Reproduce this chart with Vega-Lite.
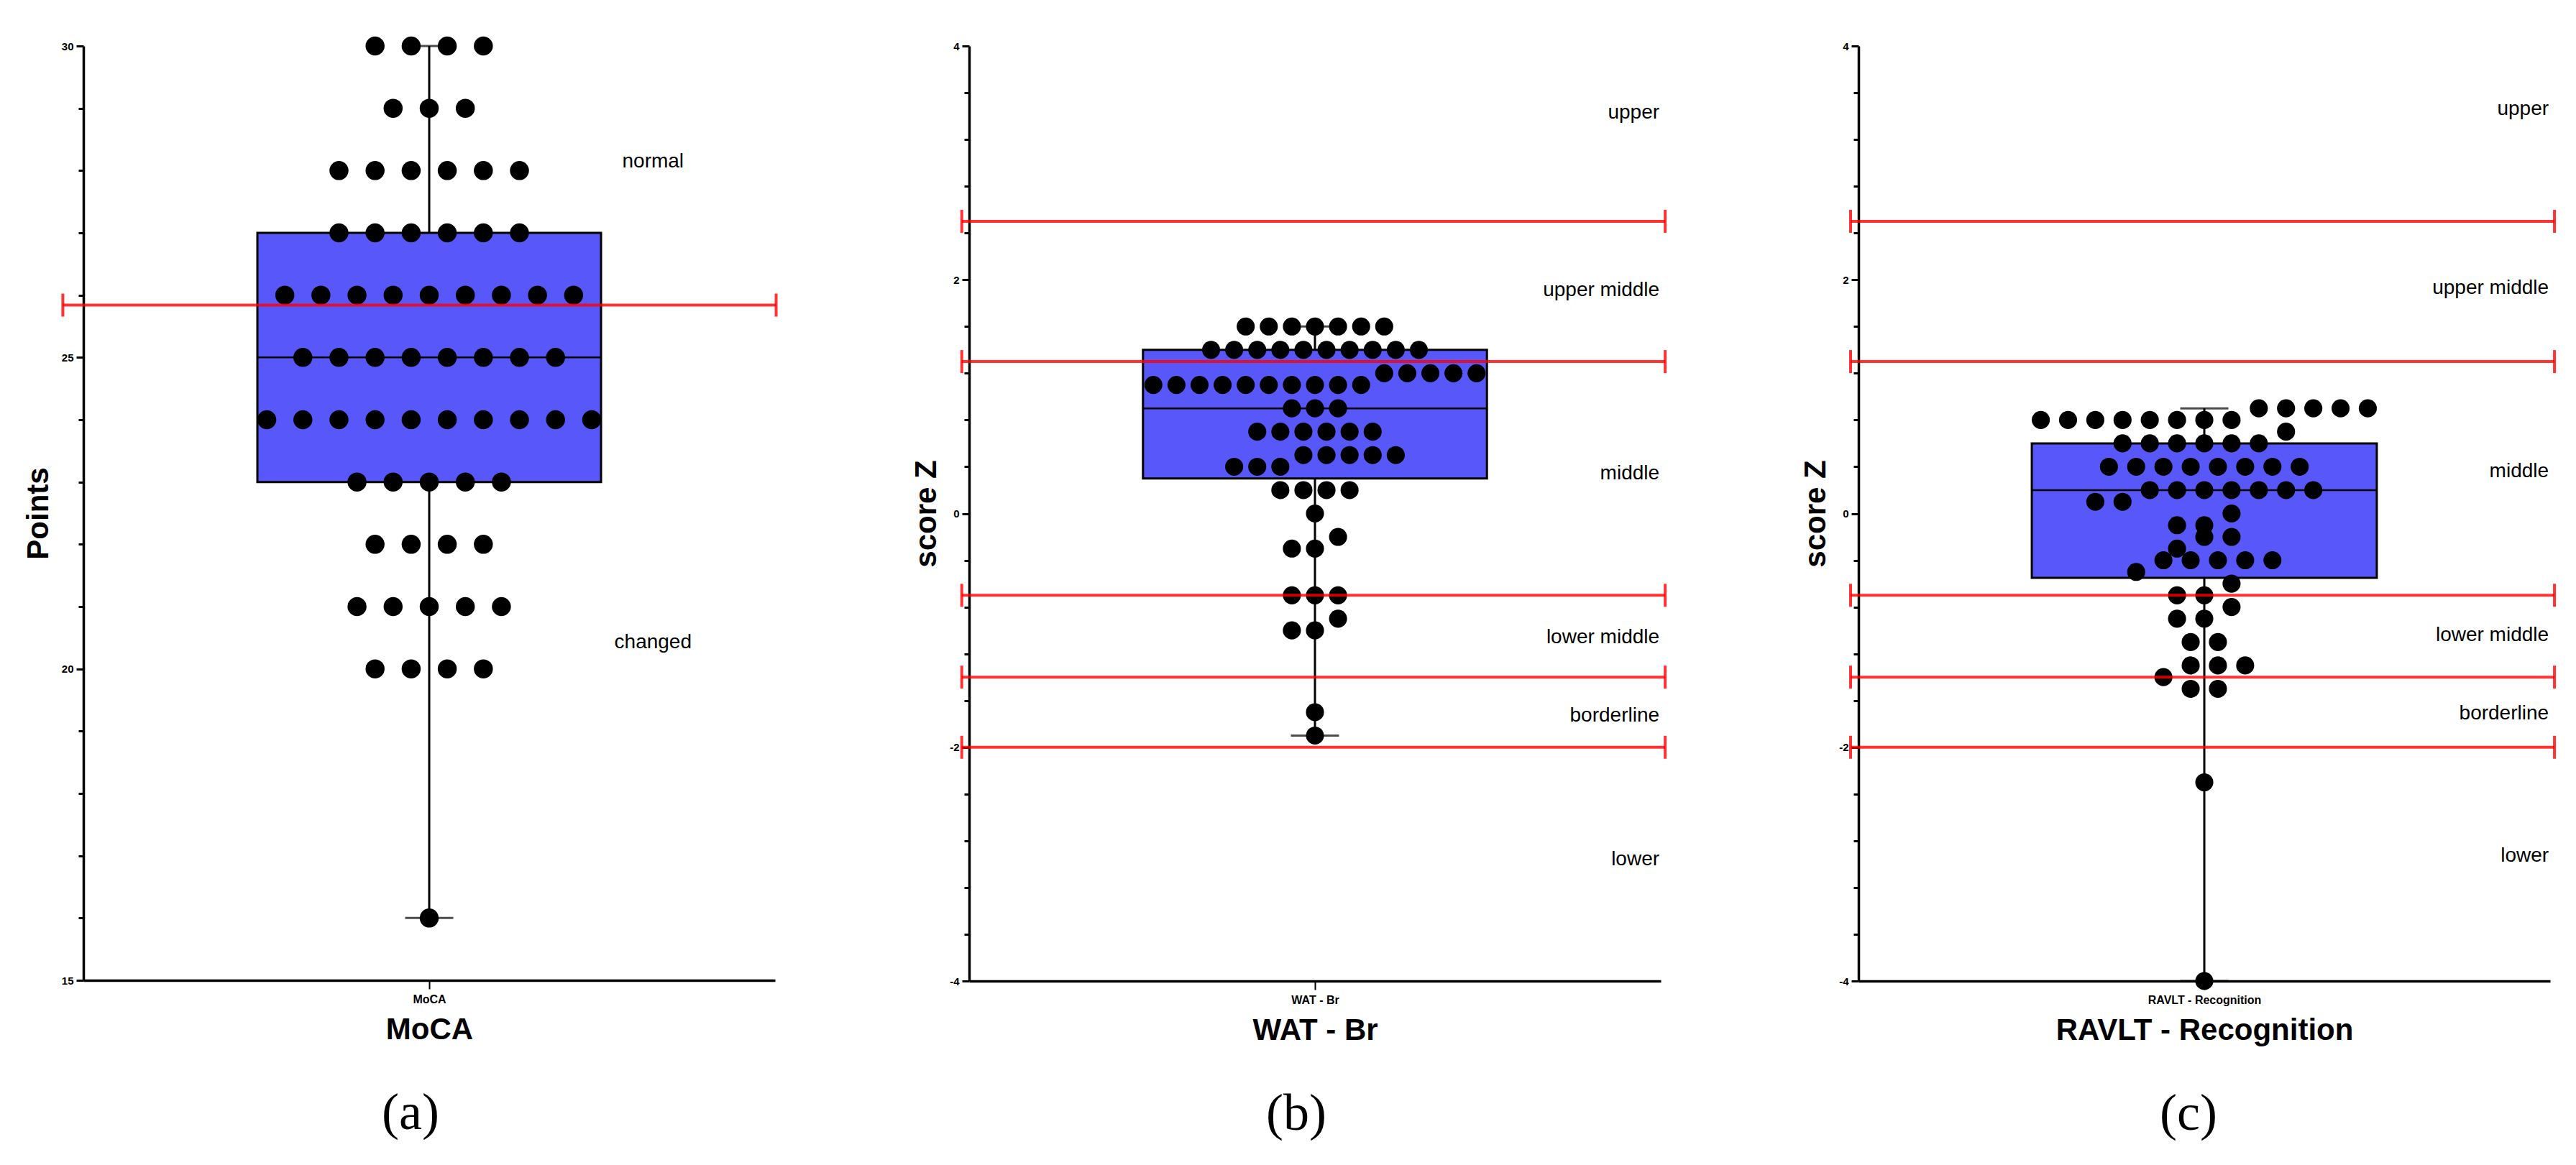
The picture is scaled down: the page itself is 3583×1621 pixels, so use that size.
{
  "$schema": "https://vega.github.io/schema/vega-lite/v6.json",
  "background": "white",
  "padding": {"left": 32, "top": 50, "right": 5, "bottom": 5},
  "config": {"view": {"stroke": null}, "font": "Liberation Sans"},
  "datasets": {
    "scores": [
      {"test": "MoCA", "score": 30}, {"test": "MoCA", "score": 30}, {"test": "MoCA", "score": 30}, {"test": "MoCA", "score": 30},
      {"test": "MoCA", "score": 29}, {"test": "MoCA", "score": 29}, {"test": "MoCA", "score": 29},
      {"test": "MoCA", "score": 28}, {"test": "MoCA", "score": 28}, {"test": "MoCA", "score": 28}, {"test": "MoCA", "score": 28}, {"test": "MoCA", "score": 28}, {"test": "MoCA", "score": 28},
      {"test": "MoCA", "score": 27}, {"test": "MoCA", "score": 27}, {"test": "MoCA", "score": 27}, {"test": "MoCA", "score": 27}, {"test": "MoCA", "score": 27}, {"test": "MoCA", "score": 27},
      {"test": "MoCA", "score": 26}, {"test": "MoCA", "score": 26}, {"test": "MoCA", "score": 26}, {"test": "MoCA", "score": 26}, {"test": "MoCA", "score": 26}, {"test": "MoCA", "score": 26}, {"test": "MoCA", "score": 26}, {"test": "MoCA", "score": 26}, {"test": "MoCA", "score": 26},
      {"test": "MoCA", "score": 25}, {"test": "MoCA", "score": 25}, {"test": "MoCA", "score": 25}, {"test": "MoCA", "score": 25}, {"test": "MoCA", "score": 25}, {"test": "MoCA", "score": 25}, {"test": "MoCA", "score": 25}, {"test": "MoCA", "score": 25},
      {"test": "MoCA", "score": 24}, {"test": "MoCA", "score": 24}, {"test": "MoCA", "score": 24}, {"test": "MoCA", "score": 24}, {"test": "MoCA", "score": 24}, {"test": "MoCA", "score": 24}, {"test": "MoCA", "score": 24}, {"test": "MoCA", "score": 24}, {"test": "MoCA", "score": 24}, {"test": "MoCA", "score": 24},
      {"test": "MoCA", "score": 23}, {"test": "MoCA", "score": 23}, {"test": "MoCA", "score": 23}, {"test": "MoCA", "score": 23}, {"test": "MoCA", "score": 23},
      {"test": "MoCA", "score": 22}, {"test": "MoCA", "score": 22}, {"test": "MoCA", "score": 22}, {"test": "MoCA", "score": 22},
      {"test": "MoCA", "score": 21}, {"test": "MoCA", "score": 21}, {"test": "MoCA", "score": 21}, {"test": "MoCA", "score": 21}, {"test": "MoCA", "score": 21},
      {"test": "MoCA", "score": 20}, {"test": "MoCA", "score": 20}, {"test": "MoCA", "score": 20}, {"test": "MoCA", "score": 20},
      {"test": "MoCA", "score": 16},
      {"test": "WAT - Br", "score": 1.6}, {"test": "WAT - Br", "score": 1.6}, {"test": "WAT - Br", "score": 1.6}, {"test": "WAT - Br", "score": 1.6}, {"test": "WAT - Br", "score": 1.6}, {"test": "WAT - Br", "score": 1.6}, {"test": "WAT - Br", "score": 1.6},
      {"test": "WAT - Br", "score": 1.4}, {"test": "WAT - Br", "score": 1.4}, {"test": "WAT - Br", "score": 1.4}, {"test": "WAT - Br", "score": 1.4}, {"test": "WAT - Br", "score": 1.4}, {"test": "WAT - Br", "score": 1.4}, {"test": "WAT - Br", "score": 1.4}, {"test": "WAT - Br", "score": 1.4}, {"test": "WAT - Br", "score": 1.4}, {"test": "WAT - Br", "score": 1.4},
      {"test": "WAT - Br", "score": 1.2}, {"test": "WAT - Br", "score": 1.2}, {"test": "WAT - Br", "score": 1.2}, {"test": "WAT - Br", "score": 1.2}, {"test": "WAT - Br", "score": 1.2},
      {"test": "WAT - Br", "score": 1.1}, {"test": "WAT - Br", "score": 1.1}, {"test": "WAT - Br", "score": 1.1}, {"test": "WAT - Br", "score": 1.1}, {"test": "WAT - Br", "score": 1.1}, {"test": "WAT - Br", "score": 1.1}, {"test": "WAT - Br", "score": 1.1}, {"test": "WAT - Br", "score": 1.1}, {"test": "WAT - Br", "score": 1.1}, {"test": "WAT - Br", "score": 1.1},
      {"test": "WAT - Br", "score": 0.9}, {"test": "WAT - Br", "score": 0.9}, {"test": "WAT - Br", "score": 0.9},
      {"test": "WAT - Br", "score": 0.7}, {"test": "WAT - Br", "score": 0.7}, {"test": "WAT - Br", "score": 0.7}, {"test": "WAT - Br", "score": 0.7}, {"test": "WAT - Br", "score": 0.7}, {"test": "WAT - Br", "score": 0.7},
      {"test": "WAT - Br", "score": 0.5}, {"test": "WAT - Br", "score": 0.5}, {"test": "WAT - Br", "score": 0.5}, {"test": "WAT - Br", "score": 0.5}, {"test": "WAT - Br", "score": 0.5},
      {"test": "WAT - Br", "score": 0.4}, {"test": "WAT - Br", "score": 0.4}, {"test": "WAT - Br", "score": 0.4},
      {"test": "WAT - Br", "score": 0.2}, {"test": "WAT - Br", "score": 0.2}, {"test": "WAT - Br", "score": 0.2}, {"test": "WAT - Br", "score": 0.2},
      {"test": "WAT - Br", "score": 0},
      {"test": "WAT - Br", "score": -0.2},
      {"test": "WAT - Br", "score": -0.3}, {"test": "WAT - Br", "score": -0.3},
      {"test": "WAT - Br", "score": -0.7}, {"test": "WAT - Br", "score": -0.7}, {"test": "WAT - Br", "score": -0.7},
      {"test": "WAT - Br", "score": -0.9},
      {"test": "WAT - Br", "score": -1.0}, {"test": "WAT - Br", "score": -1.0},
      {"test": "WAT - Br", "score": -1.7},
      {"test": "WAT - Br", "score": -1.9},
      {"test": "RAVLT - Recognition", "score": 0.9}, {"test": "RAVLT - Recognition", "score": 0.9}, {"test": "RAVLT - Recognition", "score": 0.9}, {"test": "RAVLT - Recognition", "score": 0.9}, {"test": "RAVLT - Recognition", "score": 0.9},
      {"test": "RAVLT - Recognition", "score": 0.8}, {"test": "RAVLT - Recognition", "score": 0.8}, {"test": "RAVLT - Recognition", "score": 0.8}, {"test": "RAVLT - Recognition", "score": 0.8}, {"test": "RAVLT - Recognition", "score": 0.8}, {"test": "RAVLT - Recognition", "score": 0.8}, {"test": "RAVLT - Recognition", "score": 0.8}, {"test": "RAVLT - Recognition", "score": 0.8},
      {"test": "RAVLT - Recognition", "score": 0.7},
      {"test": "RAVLT - Recognition", "score": 0.6}, {"test": "RAVLT - Recognition", "score": 0.6}, {"test": "RAVLT - Recognition", "score": 0.6}, {"test": "RAVLT - Recognition", "score": 0.6}, {"test": "RAVLT - Recognition", "score": 0.6}, {"test": "RAVLT - Recognition", "score": 0.6},
      {"test": "RAVLT - Recognition", "score": 0.4}, {"test": "RAVLT - Recognition", "score": 0.4}, {"test": "RAVLT - Recognition", "score": 0.4}, {"test": "RAVLT - Recognition", "score": 0.4}, {"test": "RAVLT - Recognition", "score": 0.4}, {"test": "RAVLT - Recognition", "score": 0.4}, {"test": "RAVLT - Recognition", "score": 0.4}, {"test": "RAVLT - Recognition", "score": 0.4},
      {"test": "RAVLT - Recognition", "score": 0.2}, {"test": "RAVLT - Recognition", "score": 0.2}, {"test": "RAVLT - Recognition", "score": 0.2}, {"test": "RAVLT - Recognition", "score": 0.2}, {"test": "RAVLT - Recognition", "score": 0.2}, {"test": "RAVLT - Recognition", "score": 0.2}, {"test": "RAVLT - Recognition", "score": 0.2},
      {"test": "RAVLT - Recognition", "score": 0.1}, {"test": "RAVLT - Recognition", "score": 0.1},
      {"test": "RAVLT - Recognition", "score": 0},
      {"test": "RAVLT - Recognition", "score": -0.1}, {"test": "RAVLT - Recognition", "score": -0.1},
      {"test": "RAVLT - Recognition", "score": -0.2}, {"test": "RAVLT - Recognition", "score": -0.2},
      {"test": "RAVLT - Recognition", "score": -0.3},
      {"test": "RAVLT - Recognition", "score": -0.4}, {"test": "RAVLT - Recognition", "score": -0.4}, {"test": "RAVLT - Recognition", "score": -0.4}, {"test": "RAVLT - Recognition", "score": -0.4}, {"test": "RAVLT - Recognition", "score": -0.4},
      {"test": "RAVLT - Recognition", "score": -0.5},
      {"test": "RAVLT - Recognition", "score": -0.6},
      {"test": "RAVLT - Recognition", "score": -0.7}, {"test": "RAVLT - Recognition", "score": -0.7},
      {"test": "RAVLT - Recognition", "score": -0.8},
      {"test": "RAVLT - Recognition", "score": -0.9}, {"test": "RAVLT - Recognition", "score": -0.9},
      {"test": "RAVLT - Recognition", "score": -1.1}, {"test": "RAVLT - Recognition", "score": -1.1},
      {"test": "RAVLT - Recognition", "score": -1.3}, {"test": "RAVLT - Recognition", "score": -1.3}, {"test": "RAVLT - Recognition", "score": -1.3},
      {"test": "RAVLT - Recognition", "score": -1.4},
      {"test": "RAVLT - Recognition", "score": -1.5}, {"test": "RAVLT - Recognition", "score": -1.5},
      {"test": "RAVLT - Recognition", "score": -2.3},
      {"test": "RAVLT - Recognition", "score": -4}
    ],
    "summary": [
      {"test": "MoCA", "min": 16, "q1": 23, "median": 25, "q3": 27, "max": 30},
      {"test": "WAT - Br", "min": -1.9, "q1": 0.3, "median": 0.9, "q3": 1.4, "max": 1.6},
      {"test": "RAVLT - Recognition", "min": -4, "q1": -0.55, "median": 0.2, "q3": 0.6, "max": 0.9}
    ],
    "cutoffs": [
      {"test": "MoCA", "cutoff": 25.84},
      {"test": "WAT - Br", "cutoff": 2.5}, {"test": "WAT - Br", "cutoff": 1.3}, {"test": "WAT - Br", "cutoff": -0.7}, {"test": "WAT - Br", "cutoff": -1.4}, {"test": "WAT - Br", "cutoff": -2},
      {"test": "RAVLT - Recognition", "cutoff": 2.5}, {"test": "RAVLT - Recognition", "cutoff": 1.3}, {"test": "RAVLT - Recognition", "cutoff": -0.7}, {"test": "RAVLT - Recognition", "cutoff": -1.4}, {"test": "RAVLT - Recognition", "cutoff": -2}
    ],
    "labels": [
      {"test": "MoCA", "label": "normal", "pos": 28.14},
      {"test": "MoCA", "label": "changed", "pos": 20.42},
      {"test": "WAT - Br", "label": "upper", "pos": 3.43},
      {"test": "WAT - Br", "label": "upper middle", "pos": 1.91},
      {"test": "WAT - Br", "label": "middle", "pos": 0.34},
      {"test": "WAT - Br", "label": "lower middle", "pos": -1.06},
      {"test": "WAT - Br", "label": "borderline", "pos": -1.73},
      {"test": "WAT - Br", "label": "lower", "pos": -2.96},
      {"test": "RAVLT - Recognition", "label": "upper", "pos": 3.46},
      {"test": "RAVLT - Recognition", "label": "upper middle", "pos": 1.93},
      {"test": "RAVLT - Recognition", "label": "middle", "pos": 0.36},
      {"test": "RAVLT - Recognition", "label": "lower middle", "pos": -1.04},
      {"test": "RAVLT - Recognition", "label": "borderline", "pos": -1.71},
      {"test": "RAVLT - Recognition", "label": "lower", "pos": -2.93}
    ]
  },
  "spacing": 185,
  "hconcat": [
    {
      "width": 962, "height": 1300,
      "title": {"text": "(a)", "orient": "bottom", "font": "Liberation Serif", "fontSize": 72, "fontWeight": "normal", "color": "black", "dx": -26, "offset": 61, "anchor": "middle"},
      "layer": [
        {
          "data": {"name": "summary"},
          "transform": [{"filter": "datum.test === 'MoCA'"}],
          "mark": {"type": "rule", "color": "black", "strokeWidth": 3},
          "encoding": {
            "x": {"datum": 0, "type": "quantitative", "scale": {"domain": [-9.58, 9.58], "nice": false, "zero": false},
              "axis": {"values": [0], "labelExpr": "'MoCA'", "title": "MoCA", "grid": false, "tickSize": 12, "tickWidth": 2, "tickColor": "black", "domainColor": "black", "domainWidth": 3.5, "labelFont": "Liberation Sans", "labelFontSize": 16, "labelFontWeight": "bold", "labelColor": "black", "labelPadding": 6, "titleFont": "Liberation Sans", "titleFontSize": 42, "titleFontWeight": "bold", "titleColor": "black", "titlePadding": 14}},
            "y": {"field": "min", "type": "quantitative", "scale": {"domain": [15, 30], "nice": false, "zero": false},
              "axis": {"values": [15,16,17,18,19,20,21,22,23,24,25,26,27,28,29,30], "labelExpr": "datum.value % 5 === 0 ? '' + datum.value : ''", "title": "Points", "grid": false, "tickSize": {"condition": {"test": "datum.value % 5 === 0", "value": 10}, "value": 7}, "tickWidth": 3, "tickColor": "black", "domainColor": "black", "domainWidth": 3.5, "labelFont": "Liberation Sans", "labelFontSize": 15, "labelFontWeight": "bold", "labelColor": "black", "labelPadding": 4, "titleFont": "Liberation Sans", "titleFontSize": 42, "titleFontWeight": "bold", "titleColor": "black", "titlePadding": 10}},
            "y2": {"field": "max"}
          }
        },
        {
          "data": {"name": "summary"},
          "transform": [{"filter": "datum.test === 'MoCA'"}],
          "mark": {"type": "tick", "orient": "horizontal", "color": "black", "size": 67, "thickness": 3},
          "encoding": {"x": {"datum": 0, "type": "quantitative"}, "y": {"field": "min", "type": "quantitative"}}
        },
        {
          "data": {"name": "summary"},
          "transform": [{"filter": "datum.test === 'MoCA'"}],
          "mark": {"type": "tick", "orient": "horizontal", "color": "black", "size": 67, "thickness": 3},
          "encoding": {"x": {"datum": 0, "type": "quantitative"}, "y": {"field": "max", "type": "quantitative"}}
        },
        {
          "data": {"name": "summary"},
          "transform": [{"filter": "datum.test === 'MoCA'"}],
          "mark": {"type": "rect", "fill": "#5858FA", "stroke": "black", "strokeWidth": 3},
          "encoding": {"x": {"datum": -4.76, "type": "quantitative"}, "x2": {"datum": 4.76}, "y": {"field": "q1", "type": "quantitative"}, "y2": {"field": "q3"}}
        },
        {
          "data": {"name": "summary"},
          "transform": [{"filter": "datum.test === 'MoCA'"}],
          "mark": {"type": "rule", "color": "black", "strokeWidth": 2.5},
          "encoding": {"x": {"datum": -4.76, "type": "quantitative"}, "x2": {"datum": 4.76}, "y": {"field": "median", "type": "quantitative"}}
        },
        {
          "data": {"name": "scores"},
          "transform": [
            {"filter": "datum.test === 'MoCA'"},
            {"window": [{"op": "lag", "field": "score", "as": "prev"}], "sort": [{"field": "score", "order": "descending"}]},
            {"calculate": "datum.prev == null || datum.prev - datum.score > 0.15 ? 1 : 0", "as": "brk"},
            {"window": [{"op": "sum", "field": "brk", "as": "run"}], "sort": [{"field": "score", "order": "descending"}], "frame": [null, 0], "ignorePeers": false},
            {"window": [{"op": "dense_rank", "as": "dr"}], "groupby": ["run"], "sort": [{"field": "score", "order": "descending"}]},
            {"calculate": "floor((datum.dr - 1) / 2)", "as": "pair"},
            {"window": [{"op": "row_number", "as": "idx"}], "groupby": ["run", "pair"], "sort": [{"field": "score", "order": "ascending"}]},
            {"joinaggregate": [{"op": "count", "as": "n"}], "groupby": ["run", "pair"]},
            {"calculate": "datum.idx - (datum.n + 1) / 2", "as": "slot"}
          ],
          "mark": {"type": "circle", "color": "black", "opacity": 1, "size": 700},
          "encoding": {"x": {"field": "slot", "type": "quantitative"}, "y": {"field": "score", "type": "quantitative"}}
        },
        {
          "data": {"name": "cutoffs"},
          "transform": [{"filter": "datum.test === 'MoCA'"}],
          "mark": {"type": "rule", "color": "#ff0000", "opacity": 0.8, "strokeWidth": 4},
          "encoding": {"x": {"datum": -10.15, "type": "quantitative"}, "x2": {"datum": 9.61}, "y": {"field": "cutoff", "type": "quantitative"}}
        },
        {
          "data": {"name": "cutoffs"},
          "transform": [{"filter": "datum.test === 'MoCA'"}],
          "mark": {"type": "tick", "orient": "vertical", "color": "#ff0000", "opacity": 0.8, "size": 32, "thickness": 4},
          "encoding": {"x": {"datum": -10.15, "type": "quantitative"}, "y": {"field": "cutoff", "type": "quantitative"}}
        },
        {
          "data": {"name": "cutoffs"},
          "transform": [{"filter": "datum.test === 'MoCA'"}],
          "mark": {"type": "tick", "orient": "vertical", "color": "#ff0000", "opacity": 0.8, "size": 32, "thickness": 4},
          "encoding": {"x": {"datum": 9.61, "type": "quantitative"}, "y": {"field": "cutoff", "type": "quantitative"}}
        },
        {
          "data": {"name": "labels"},
          "transform": [{"filter": "datum.test === 'MoCA'"}],
          "mark": {"type": "text", "font": "Liberation Sans", "fontSize": 28, "align": "center", "baseline": "middle", "color": "black"},
          "encoding": {"x": {"datum": 6.2, "type": "quantitative"}, "y": {"field": "pos", "type": "quantitative"}, "text": {"field": "label"}}
        }
      ]
    },
    {
      "width": 962, "height": 1301,
      "title": {"text": "(b)", "orient": "bottom", "font": "Liberation Serif", "fontSize": 72, "fontWeight": "normal", "color": "black", "dx": -26, "offset": 61, "anchor": "middle"},
      "layer": [
        {
          "data": {"name": "summary"},
          "transform": [{"filter": "datum.test === 'WAT - Br'"}],
          "mark": {"type": "rule", "color": "black", "strokeWidth": 3},
          "encoding": {
            "x": {"datum": 0, "type": "quantitative", "scale": {"domain": [-14.98, 14.98], "nice": false, "zero": false},
              "axis": {"values": [0], "labelExpr": "'WAT - Br'", "title": "WAT - Br", "grid": false, "tickSize": 12, "tickWidth": 2, "tickColor": "black", "domainColor": "black", "domainWidth": 3.5, "labelFont": "Liberation Sans", "labelFontSize": 16, "labelFontWeight": "bold", "labelColor": "black", "labelPadding": 6, "titleFont": "Liberation Sans", "titleFontSize": 42, "titleFontWeight": "bold", "titleColor": "black", "titlePadding": 14}},
            "y": {"field": "min", "type": "quantitative", "scale": {"domain": [-4, 4], "nice": false, "zero": false},
              "axis": {"values": [-4,-3.8,-3.6,-3.4,-3.2,-3,-2.8,-2.6,-2.4,-2.2,-2,-1.8,-1.6,-1.4,-1.2,-1,-0.8,-0.6,-0.4,-0.2,0,0.2,0.4,0.6,0.8,1,1.2,1.4,1.6,1.8,2,2.2,2.4,2.6,2.8,3,3.2,3.4,3.6,3.8,4], "labelExpr": "abs(datum.value % 2) < 0.001 ? '' + datum.value : ''", "title": "score Z", "grid": false, "tickSize": {"condition": {"test": "abs(datum.value % 2) < 0.001", "value": 10}, "value": 7}, "tickWidth": 3, "tickColor": "black", "domainColor": "black", "domainWidth": 3.5, "labelFont": "Liberation Sans", "labelFontSize": 15, "labelFontWeight": "bold", "labelColor": "black", "labelPadding": 4, "titleFont": "Liberation Sans", "titleFontSize": 42, "titleFontWeight": "bold", "titleColor": "black", "titlePadding": 10}},
            "y2": {"field": "max"}
          }
        },
        {
          "data": {"name": "summary"},
          "transform": [{"filter": "datum.test === 'WAT - Br'"}],
          "mark": {"type": "tick", "orient": "horizontal", "color": "black", "size": 67, "thickness": 3},
          "encoding": {"x": {"datum": 0, "type": "quantitative"}, "y": {"field": "min", "type": "quantitative"}}
        },
        {
          "data": {"name": "summary"},
          "transform": [{"filter": "datum.test === 'WAT - Br'"}],
          "mark": {"type": "tick", "orient": "horizontal", "color": "black", "size": 67, "thickness": 3},
          "encoding": {"x": {"datum": 0, "type": "quantitative"}, "y": {"field": "max", "type": "quantitative"}}
        },
        {
          "data": {"name": "summary"},
          "transform": [{"filter": "datum.test === 'WAT - Br'"}],
          "mark": {"type": "rect", "fill": "#5858FA", "stroke": "black", "strokeWidth": 3},
          "encoding": {"x": {"datum": -7.45, "type": "quantitative"}, "x2": {"datum": 7.45}, "y": {"field": "q1", "type": "quantitative"}, "y2": {"field": "q3"}}
        },
        {
          "data": {"name": "summary"},
          "transform": [{"filter": "datum.test === 'WAT - Br'"}],
          "mark": {"type": "rule", "color": "black", "strokeWidth": 2.5},
          "encoding": {"x": {"datum": -7.45, "type": "quantitative"}, "x2": {"datum": 7.45}, "y": {"field": "median", "type": "quantitative"}}
        },
        {
          "data": {"name": "scores"},
          "transform": [
            {"filter": "datum.test === 'WAT - Br'"},
            {"window": [{"op": "lag", "field": "score", "as": "prev"}], "sort": [{"field": "score", "order": "descending"}]},
            {"calculate": "datum.prev == null || datum.prev - datum.score > 0.15 ? 1 : 0", "as": "brk"},
            {"window": [{"op": "sum", "field": "brk", "as": "run"}], "sort": [{"field": "score", "order": "descending"}], "frame": [null, 0], "ignorePeers": false},
            {"window": [{"op": "dense_rank", "as": "dr"}], "groupby": ["run"], "sort": [{"field": "score", "order": "descending"}]},
            {"calculate": "floor((datum.dr - 1) / 2)", "as": "pair"},
            {"window": [{"op": "row_number", "as": "idx"}], "groupby": ["run", "pair"], "sort": [{"field": "score", "order": "ascending"}]},
            {"joinaggregate": [{"op": "count", "as": "n"}], "groupby": ["run", "pair"]},
            {"calculate": "datum.idx - (datum.n + 1) / 2", "as": "slot"}
          ],
          "mark": {"type": "circle", "color": "black", "opacity": 1, "size": 630},
          "encoding": {"x": {"field": "slot", "type": "quantitative"}, "y": {"field": "score", "type": "quantitative"}}
        },
        {
          "data": {"name": "cutoffs"},
          "transform": [{"filter": "datum.test === 'WAT - Br'"}],
          "mark": {"type": "rule", "color": "#ff0000", "opacity": 0.8, "strokeWidth": 4},
          "encoding": {"x": {"datum": -15.3, "type": "quantitative"}, "x2": {"datum": 15.17}, "y": {"field": "cutoff", "type": "quantitative"}}
        },
        {
          "data": {"name": "cutoffs"},
          "transform": [{"filter": "datum.test === 'WAT - Br'"}],
          "mark": {"type": "tick", "orient": "vertical", "color": "#ff0000", "opacity": 0.8, "size": 32, "thickness": 4},
          "encoding": {"x": {"datum": -15.3, "type": "quantitative"}, "y": {"field": "cutoff", "type": "quantitative"}}
        },
        {
          "data": {"name": "cutoffs"},
          "transform": [{"filter": "datum.test === 'WAT - Br'"}],
          "mark": {"type": "tick", "orient": "vertical", "color": "#ff0000", "opacity": 0.8, "size": 32, "thickness": 4},
          "encoding": {"x": {"datum": 15.17, "type": "quantitative"}, "y": {"field": "cutoff", "type": "quantitative"}}
        },
        {
          "data": {"name": "labels"},
          "transform": [{"filter": "datum.test === 'WAT - Br'"}],
          "mark": {"type": "text", "font": "Liberation Sans", "fontSize": 28, "align": "right", "baseline": "middle", "color": "black"},
          "encoding": {"x": {"datum": 14.92, "type": "quantitative"}, "y": {"field": "pos", "type": "quantitative"}, "text": {"field": "label"}}
        }
      ]
    },
    {
      "width": 962, "height": 1301,
      "title": {"text": "(c)", "orient": "bottom", "font": "Liberation Serif", "fontSize": 72, "fontWeight": "normal", "color": "black", "dx": -22, "offset": 61, "anchor": "middle"},
      "layer": [
        {
          "data": {"name": "summary"},
          "transform": [{"filter": "datum.test === 'RAVLT - Recognition'"}],
          "mark": {"type": "rule", "color": "black", "strokeWidth": 3},
          "encoding": {
            "x": {"datum": 0, "type": "quantitative", "scale": {"domain": [-12.69, 12.69], "nice": false, "zero": false},
              "axis": {"values": [0], "labelExpr": "'RAVLT - Recognition'", "title": "RAVLT - Recognition", "grid": false, "tickSize": 12, "tickWidth": 2, "tickColor": "black", "domainColor": "black", "domainWidth": 3.5, "labelFont": "Liberation Sans", "labelFontSize": 16, "labelFontWeight": "bold", "labelColor": "black", "labelPadding": 6, "titleFont": "Liberation Sans", "titleFontSize": 42, "titleFontWeight": "bold", "titleColor": "black", "titlePadding": 14}},
            "y": {"field": "min", "type": "quantitative", "scale": {"domain": [-4, 4], "nice": false, "zero": false},
              "axis": {"values": [-4,-3.8,-3.6,-3.4,-3.2,-3,-2.8,-2.6,-2.4,-2.2,-2,-1.8,-1.6,-1.4,-1.2,-1,-0.8,-0.6,-0.4,-0.2,0,0.2,0.4,0.6,0.8,1,1.2,1.4,1.6,1.8,2,2.2,2.4,2.6,2.8,3,3.2,3.4,3.6,3.8,4], "labelExpr": "abs(datum.value % 2) < 0.001 ? '' + datum.value : ''", "title": "score Z", "grid": false, "tickSize": {"condition": {"test": "abs(datum.value % 2) < 0.001", "value": 10}, "value": 7}, "tickWidth": 3, "tickColor": "black", "domainColor": "black", "domainWidth": 3.5, "labelFont": "Liberation Sans", "labelFontSize": 15, "labelFontWeight": "bold", "labelColor": "black", "labelPadding": 4, "titleFont": "Liberation Sans", "titleFontSize": 42, "titleFontWeight": "bold", "titleColor": "black", "titlePadding": 10}},
            "y2": {"field": "max"}
          }
        },
        {
          "data": {"name": "summary"},
          "transform": [{"filter": "datum.test === 'RAVLT - Recognition'"}],
          "mark": {"type": "tick", "orient": "horizontal", "color": "black", "size": 67, "thickness": 3},
          "encoding": {"x": {"datum": 0, "type": "quantitative"}, "y": {"field": "min", "type": "quantitative"}}
        },
        {
          "data": {"name": "summary"},
          "transform": [{"filter": "datum.test === 'RAVLT - Recognition'"}],
          "mark": {"type": "tick", "orient": "horizontal", "color": "black", "size": 67, "thickness": 3},
          "encoding": {"x": {"datum": 0, "type": "quantitative"}, "y": {"field": "max", "type": "quantitative"}}
        },
        {
          "data": {"name": "summary"},
          "transform": [{"filter": "datum.test === 'RAVLT - Recognition'"}],
          "mark": {"type": "rect", "fill": "#5858FA", "stroke": "black", "strokeWidth": 3},
          "encoding": {"x": {"datum": -6.33, "type": "quantitative"}, "x2": {"datum": 6.33}, "y": {"field": "q1", "type": "quantitative"}, "y2": {"field": "q3"}}
        },
        {
          "data": {"name": "summary"},
          "transform": [{"filter": "datum.test === 'RAVLT - Recognition'"}],
          "mark": {"type": "rule", "color": "black", "strokeWidth": 2.5},
          "encoding": {"x": {"datum": -6.33, "type": "quantitative"}, "x2": {"datum": 6.33}, "y": {"field": "median", "type": "quantitative"}}
        },
        {
          "data": {"name": "scores"},
          "transform": [
            {"filter": "datum.test === 'RAVLT - Recognition'"},
            {"window": [{"op": "lag", "field": "score", "as": "prev"}], "sort": [{"field": "score", "order": "descending"}]},
            {"calculate": "datum.prev == null || datum.prev - datum.score > 0.15 ? 1 : 0", "as": "brk"},
            {"window": [{"op": "sum", "field": "brk", "as": "run"}], "sort": [{"field": "score", "order": "descending"}], "frame": [null, 0], "ignorePeers": false},
            {"window": [{"op": "dense_rank", "as": "dr"}], "groupby": ["run"], "sort": [{"field": "score", "order": "descending"}]},
            {"calculate": "floor((datum.dr - 1) / 2)", "as": "pair"},
            {"window": [{"op": "row_number", "as": "idx"}], "groupby": ["run", "pair"], "sort": [{"field": "score", "order": "ascending"}]},
            {"joinaggregate": [{"op": "count", "as": "n"}], "groupby": ["run", "pair"]},
            {"calculate": "datum.idx - (datum.n + 1) / 2", "as": "slot"}
          ],
          "mark": {"type": "circle", "color": "black", "opacity": 1, "size": 630},
          "encoding": {"x": {"field": "slot", "type": "quantitative"}, "y": {"field": "score", "type": "quantitative"}}
        },
        {
          "data": {"name": "cutoffs"},
          "transform": [{"filter": "datum.test === 'RAVLT - Recognition'"}],
          "mark": {"type": "rule", "color": "#ff0000", "opacity": 0.8, "strokeWidth": 4},
          "encoding": {"x": {"datum": -12.98, "type": "quantitative"}, "x2": {"datum": 12.85}, "y": {"field": "cutoff", "type": "quantitative"}}
        },
        {
          "data": {"name": "cutoffs"},
          "transform": [{"filter": "datum.test === 'RAVLT - Recognition'"}],
          "mark": {"type": "tick", "orient": "vertical", "color": "#ff0000", "opacity": 0.8, "size": 32, "thickness": 4},
          "encoding": {"x": {"datum": -12.98, "type": "quantitative"}, "y": {"field": "cutoff", "type": "quantitative"}}
        },
        {
          "data": {"name": "cutoffs"},
          "transform": [{"filter": "datum.test === 'RAVLT - Recognition'"}],
          "mark": {"type": "tick", "orient": "vertical", "color": "#ff0000", "opacity": 0.8, "size": 32, "thickness": 4},
          "encoding": {"x": {"datum": 12.85, "type": "quantitative"}, "y": {"field": "cutoff", "type": "quantitative"}}
        },
        {
          "data": {"name": "labels"},
          "transform": [{"filter": "datum.test === 'RAVLT - Recognition'"}],
          "mark": {"type": "text", "font": "Liberation Sans", "fontSize": 28, "align": "right", "baseline": "middle", "color": "black"},
          "encoding": {"x": {"datum": 12.64, "type": "quantitative"}, "y": {"field": "pos", "type": "quantitative"}, "text": {"field": "label"}}
        }
      ]
    }
  ]
}
